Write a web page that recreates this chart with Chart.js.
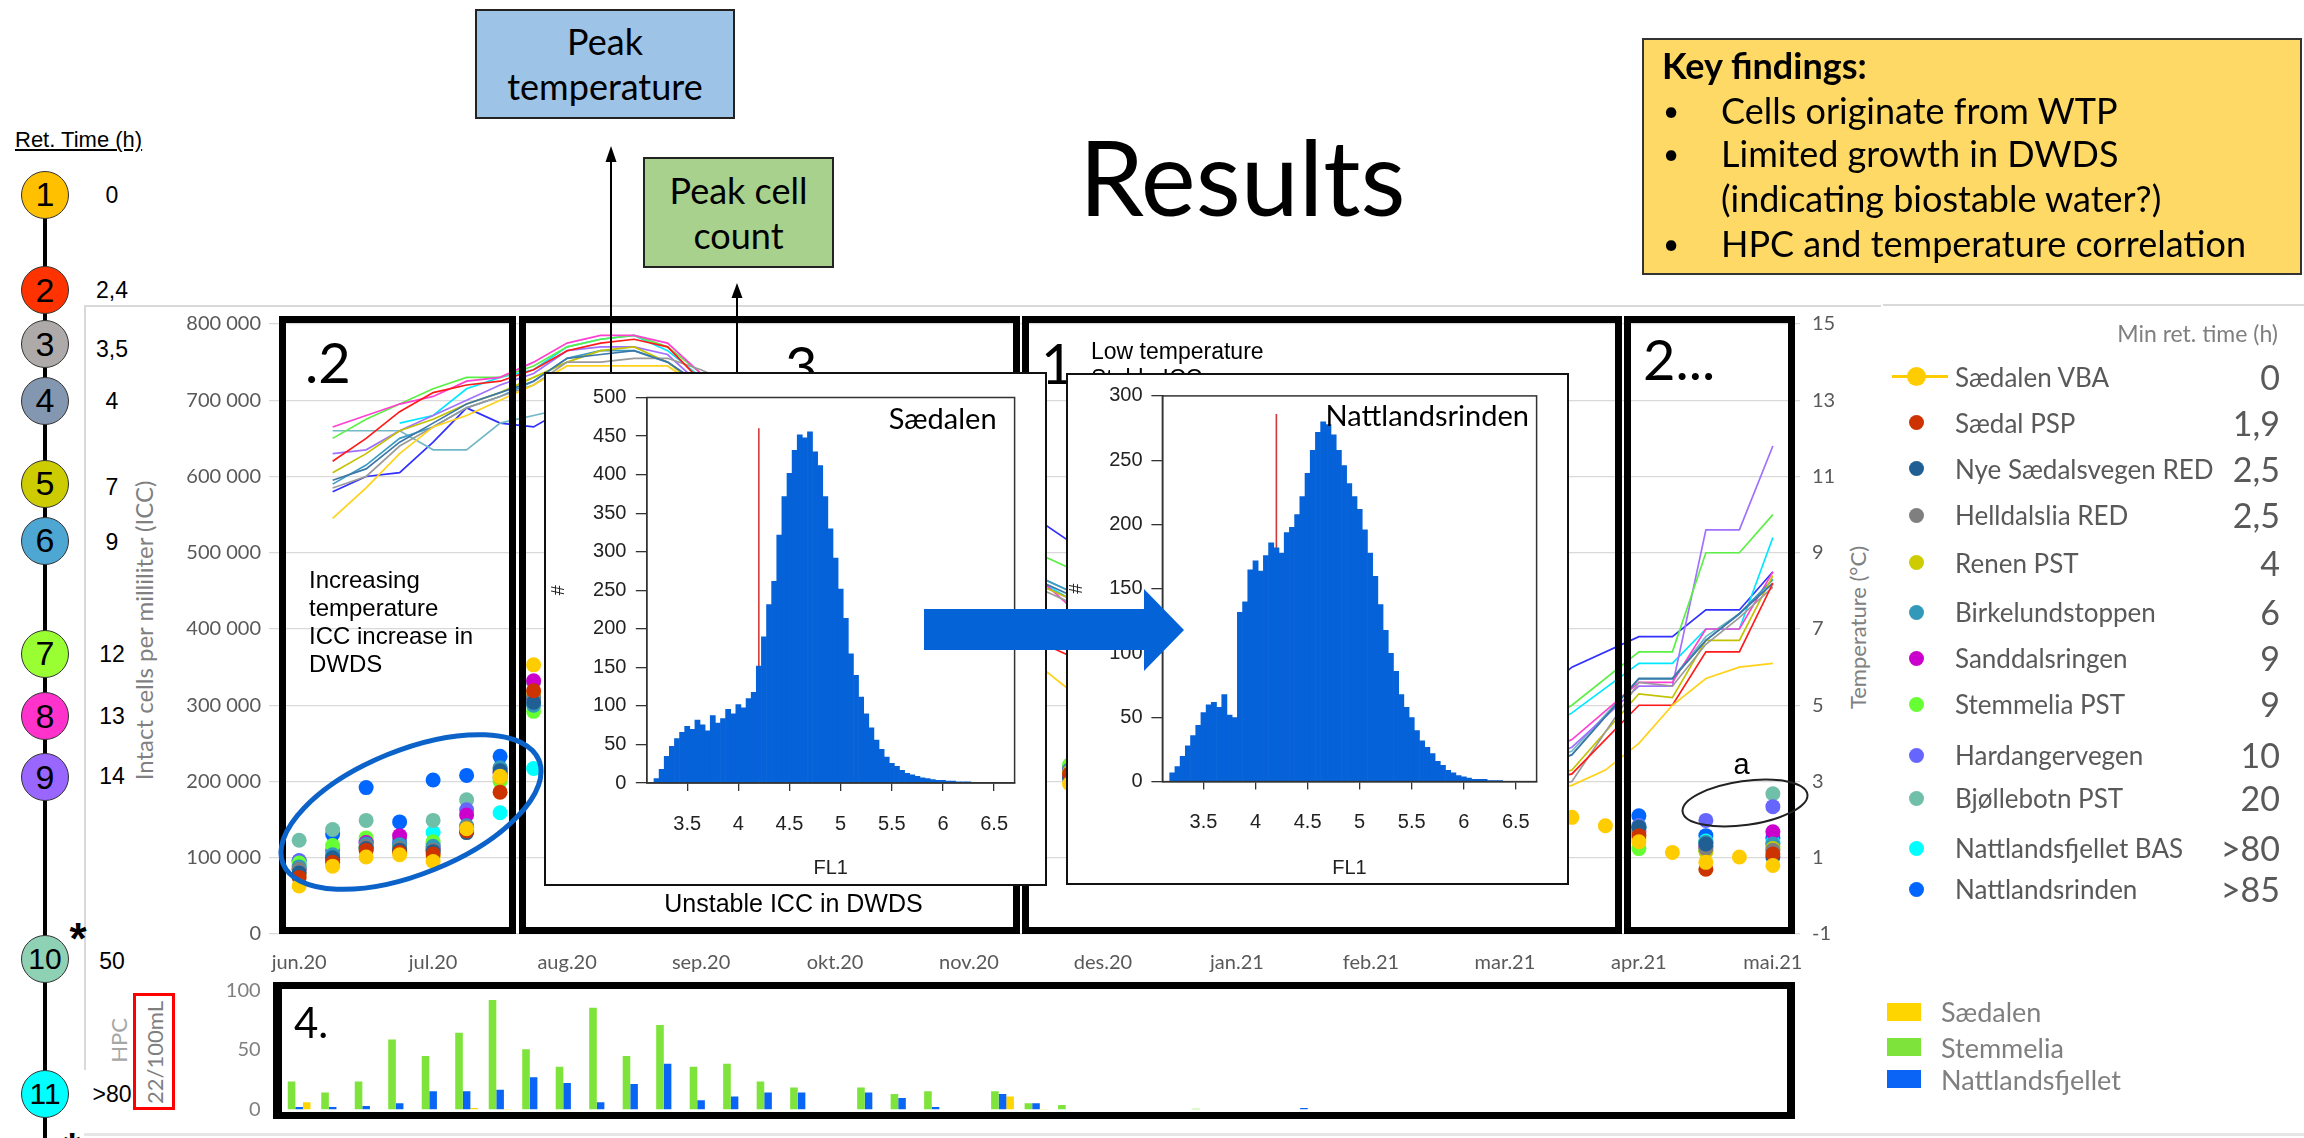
<!DOCTYPE html>
<html lang="no">
<head>
<meta charset="utf-8">
<title>Results</title>
<script src="https://cdn.jsdelivr.net/npm/chart.js"></script>
<style>
 html,body{margin:0;padding:0;background:#fff;}
 body{position:relative;width:2304px;height:1138px;overflow:hidden;font-family:Lato,"Liberation Sans",sans-serif;color:#000;}
 .a{position:absolute;white-space:nowrap;}
 .layer{position:absolute;left:0;top:0;width:2304px;height:1138px;}
 .panel{position:absolute;border:7px solid #000;box-sizing:border-box;}
 .tl{position:absolute;width:48px;height:48px;border-radius:50%;border:1.5px solid #333;box-sizing:border-box;display:flex;align-items:center;justify-content:center;font:34px "Liberation Sans",Arial,sans-serif;}
 .inset{position:absolute;border:2px solid #111;background:#fff;}
 .box{position:absolute;box-sizing:border-box;border:2px solid #222;display:flex;flex-direction:column;align-items:center;justify-content:center;font-size:36px;line-height:45px;}
 canvas{position:absolute;}
</style>
</head>
<body>
<div class="layer" id="base"></div>
<canvas id="mainChart" width="1800" height="680" style="left:84px;top:300px"></canvas>
<div class="layer" id="panels"></div>
<div class="inset" id="insetS" style="left:544px;top:372px;width:499px;height:510px">
  <canvas id="histS" width="499" height="510" style="left:0;top:0"></canvas>
</div>
<div class="inset" id="insetN" style="left:1066px;top:373px;width:499px;height:508px">
  <canvas id="histN" width="499" height="508" style="left:0;top:0"></canvas>
</div>
<canvas id="hpcChart" width="1800" height="160" style="left:84px;top:970px"></canvas>
<div class="layer" id="top"></div>
<div class="box" style="left:475px;top:9px;width:260px;height:110px;background:#9dc3e6"><div>Peak</div><div>temperature</div></div>
<div class="box" style="left:643px;top:157px;width:191px;height:111px;background:#a9d18e"><div>Peak cell</div><div>count</div></div>
<div class="a" style="left:1642px;top:38px;width:660px;height:237px;background:#ffd966;border:2px solid #333;box-sizing:border-box"></div>
<svg class="a" style="left:0;top:0" width="2304" height="1138">
  <ellipse cx="411" cy="812" rx="138" ry="62" transform="rotate(-22 411 812)" fill="none" stroke="#0b62c9" stroke-width="5"/>
  <ellipse cx="1745" cy="803" rx="63" ry="22" transform="rotate(-8 1745 803)" fill="none" stroke="#222" stroke-width="2"/>
  <line x1="611" y1="158" x2="611" y2="372" stroke="#000" stroke-width="2"/>
  <polygon points="611,146 605.5,162 616.5,162" fill="#000"/>
  <line x1="737" y1="294" x2="737" y2="372" stroke="#000" stroke-width="2"/>
  <polygon points="737,283 731.5,298 742.5,298" fill="#000"/>
  <polygon points="924,609 1144,609 1144,589 1184,630 1144,671 1144,650 924,650" fill="#0563d8"/>
</svg>
<div class="layer" id="texts"></div>
<script>
// ---------------- DATA ----------------
const monthLabels = ['jun.20','jul.20','aug.20','sep.20','okt.20','nov.20','des.20','jan.21','feb.21','mar.21','apr.21','mai.21'];
const monthTickWeeks = [0,4,8,12,16,20,24,28,32,36,40,44];

const stations = ['Sædalen VBA','Sædal PSP','Nye Sædalsvegen RED','Helldalslia RED','Renen PST','Birkelundstoppen','Sanddalsringen','Stemmelia PST','Hardangervegen','Bjøllebotn PST','Nattlandsfjellet BAS','Nattlandsrinden'];
const minRetTime = ['0','1,9','2,5','2,5','4','6','9','9','10','20','>80','>85'];
const dotColors = ['#ffcc00','#cc3300','#1f5f94','#7f7f7f','#cccc00','#3399bb','#cc00cc','#66ff33','#6666ff','#70bfa8','#00ffff','#0066ff'];
const lineColors = ['#ffd21a','#ff1a1a','#3d78a8','#9a9a9a','#c2c200','#3b9cc4','#ff40d0','#5cf046','#a070ff','#72b8c6','#00e8ff','#3030ff'];

// ICC (intact cells per mL), weekly sample index
const iccWeeks = [0,1,2,3,4,5,6,7,23,38,39,40,41,42,43,44];
const iccSaedalenVBA      = [63000,89000,101000,104000,95000,138000,207000,353000,197000,153000,142000,121000,107000,94000,101000,90000];
const iccSaedalPSP        = [74000,94000,110000,107000,105000,135000,186000,319000,210000,null,null,129000,null,85000,null,105000];
const iccNyeSaedalsvegen  = [80000,100000,112000,110000,108000,133000,214000,304000,205000,null,null,140000,null,118000,null,101000];
const iccHelldalslia      = [85000,98000,115000,112000,110000,140000,210000,310000,205000,null,null,138000,null,112000,null,110000];
const iccRenen            = [79000,96000,113000,109000,102000,136000,205000,315000,212000,null,null,125000,null,108000,null,112000];
const iccBirkelund        = [88000,104000,118000,117000,115000,142000,218000,300000,215000,null,null,140000,null,120000,null,118000];
const iccSanddalsringen   = [85000,98000,120000,129000,112000,156000,212000,332000,215000,null,null,134000,null,115000,null,134000];
const iccStemmelia        = [93000,116000,126000,115000,121000,140000,200000,292000,222000,null,null,112000,null,110000,null,115000];
const iccHardangervegen   = [96000,110000,122000,120000,118000,163000,205000,310000,218000,null,null,142000,null,149000,null,167000];
const iccBjollebotn       = [123000,137000,149000,125000,149000,176000,217000,330000,220000,null,null,142000,null,120000,null,184000];
const iccNattlandsfjellet = [90000,101000,112000,118000,133000,137000,159000,217000,215000,null,null,140000,null,122000,null,120000];
const iccNattlandsrinden  = [96000,131000,192000,147000,202000,208000,233000,310000,215000,null,null,155000,null,129000,null,126000];

// Temperature (°C), weekly index
const tempWeeks = [1,2,3,4,5,6,7,8,9,10,11,12,16,20,22,23,30,34,38,39,40,41,42,43,44];
const tempSaedalenVBA      = [9.9,10.7,11.6,12.3,12.6,13.0,13.4,13.9,13.9,13.9,13.9,13.3,11.8,8.0,6.1,5.4,2.4,2.2,2.9,3.3,4.0,5.0,5.7,6.0,6.1];
const tempSaedalPSP        = [11.4,12.0,12.7,13.2,13.4,13.5,13.8,14.3,14.5,14.6,14.4,13.5,12.2,8.6,6.7,6.3,2.5,2.3,3.2,null,5.0,5.0,6.4,6.4,8.2];
const tempNyeSaedalsvegen  = [10.9,11.2,11.9,12.4,12.9,13.2,13.5,14.1,14.2,14.3,14.0,13.4,12.0,9.4,8.3,7.9,2.6,2.4,3.7,null,5.7,5.7,6.7,7.4,8.2];
const tempHelldalslia      = [10.7,11.0,11.8,12.3,12.8,13.1,13.4,14.0,14.0,14.1,14.1,13.8,12.2,9.0,8.1,7.7,2.4,2.2,3.0,null,5.6,5.5,6.6,7.3,8.1];
const tempRenen            = [11.1,11.6,12.2,12.5,12.9,13.2,13.6,14.0,14.3,14.4,14.0,13.3,12.0,9.0,8.2,7.8,2.5,2.3,3.3,null,5.3,5.2,6.7,6.7,8.4];
const tempBirkelund        = [10.8,11.3,12.0,12.3,12.8,13.1,13.5,14.1,14.3,14.3,14.0,13.4,12.1,9.4,8.4,8.0,2.6,2.4,3.7,null,5.7,5.7,6.7,7.4,8.3];
const tempSanddalsringen   = [12.3,12.6,12.9,13.1,13.5,13.6,14.0,14.5,14.7,14.7,14.5,13.7,12.4,9.4,8.4,7.6,2.7,2.5,4.1,null,5.6,5.6,7.0,7.0,8.5];
const tempStemmelia        = [12.0,12.5,12.9,13.3,13.6,13.6,13.9,14.4,14.6,14.7,14.4,13.7,12.5,9.8,9.0,8.6,3.0,2.8,5.0,null,6.4,6.4,9.0,9.0,10.0];
const tempHardangervegen   = [11.6,11.7,12.2,12.6,13.0,13.4,13.7,14.3,14.4,14.4,14.2,13.4,12.2,9.2,8.2,7.8,2.6,2.4,3.9,null,5.5,5.5,9.6,9.6,11.8];
const tempBjollebotn       = [12.2,12.2,12.2,11.7,11.7,12.4,12.6,12.8,13.0,13.0,12.8,12.4,12.0,9.4,8.4,8.0,2.6,2.4,3.8,null,5.7,5.7,6.8,7.4,8.3];
const tempNattlandsfjellet = [null,null,12.4,12.6,13.3,13.6,13.8,14.4,14.6,14.7,14.3,13.6,12.3,9.4,8.3,7.8,2.8,2.6,4.8,null,6.1,6.1,7.0,7.0,9.4];
const tempNattlandsrinden  = [10.6,11.0,11.1,11.9,12.8,12.4,12.3,12.8,13.0,13.0,12.8,12.4,12.1,10.2,9.9,9.3,3.2,3.0,6.0,null,6.8,6.8,7.5,7.5,8.5];

// HPC 22 °C per 100 mL, weekly index
const hpcWeeks = [0,1,2,3,4,5,6,7,8,9,10,11,12,13,14,15,16,17,18,19,20,21,22,23,24,25,26,27,28,29,30];
const hpcStemmelia        = [23.5,14.3,23.5,58.8,45,64.4,92,50.6,36,85.4,45,71,36,38.5,23.5,18.6,null,18.6,13,15.4,null,15.4,5.4,3.8,null,null,null,0.8,null,null,null];
const hpcNattlandsfjellet = [2.2,2.2,3,5.4,15.4,15.4,16.7,27.2,22.4,6.2,21.5,38.5,7.8,11,14.3,14.3,null,14.3,9.7,2.2,null,13,5.4,null,null,null,null,null,null,null,1.4];
const hpcSaedalen         = [6.2,null,null,null,null,1.4,0.5,null,null,null,null,null,null,null,null,null,null,null,null,null,null,11,0.5,null,null,null,null,null,null,null,null];

// Flow cytometry histograms (FL1), bins of 0.05 starting at 3.20
const histBinStart = 3.2, histBinWidth = 0.05;
const histTicks = [3.5,4,4.5,5,5.5,6,6.5];
const histSaedalen = [6,18,35,48,58,66,74,70,82,76, 68,88,78,84,96,90,102,98,110,118,
  152,190,232,262,322,372,402,432,452,448, 456,430,412,372,330,292,252,214,168,140,
  112,90,72,56,44,34,26,22,17,13, 11,9,7,6,5,4,4,3,3,2, 2,2,1,1,1,1,0];
const histNattlandsrinden = [7,12,20,28,36,44,54,60,62,58, 68,52,50,132,140,165,172,164,176,186,
  182,178,194,198,208,222,240,258,272,280, 278,270,258,246,232,222,212,196,178,160,
  138,118,100,86,68,58,50,40,32,27, 22,16,13,9,7,5,4,3,2,2, 2,1,1,1,0,0,0];
const gateFL1 = 4.2, gateTopSaedalen = 460, gateTopNatt = 286;

const hpcLegend = ['Sædalen','Stemmelia','Nattlandsfjellet'];
const timelineRet = ['0','2,4','3,5','4','7','9','12','13','14','50','>80'];
const timelineColors = ['#ffc000','#ff3300','#aeaaaa','#8497b0','#cccc00','#4ea6d2','#99ff33','#ff33cc','#9966ff','#8fd1b5','#00ffff'];

// ---------------- LAYOUT (pixels) ----------------
const X_MIN = -0.9, X_MAX = 44.81;
const timelineY = [194.7,290,344,400.5,483.6,540.8,653.8,716,777,959,1094];
const retY = [194.7,290,348.6,400.5,487,542,653.8,716,776,961,1094];
const legendRowY = [376.5,422.7,468.8,515,562.6,612.4,658,704,755,798,848,889];
const LIB = '"Liberation Sans", Arial, sans-serif';
const LATO = 'Lato, "Liberation Sans", sans-serif';

function addText(t, o) {
  const d = document.createElement('div');
  d.className = 'a';
  d.textContent = t;
  const h = o.h || Math.round(o.size * 1.3);
  d.style.fontSize = o.size + 'px';
  d.style.lineHeight = h + 'px';
  d.style.height = h + 'px';
  d.style.fontFamily = o.family || LATO;
  if (o.color) d.style.color = o.color;
  if (o.weight) d.style.fontWeight = o.weight;
  if (o.underline) d.style.textDecoration = 'underline';
  d.style.top = (o.cy - h / 2) + 'px';
  if (o.left !== undefined) d.style.left = o.left + 'px';
  if (o.right !== undefined) { d.style.left = (o.right - 1000) + 'px'; d.style.width = '1000px'; d.style.textAlign = 'right'; }
  if (o.cx !== undefined) { d.style.left = (o.cx - 500) + 'px'; d.style.width = '1000px'; d.style.textAlign = 'center'; }
  if (o.rot) d.style.transform = 'rotate(' + o.rot + 'deg)';
  (o.parent || document.getElementById('texts')).appendChild(d);
  return d;
}
function addDiv(parent, css) {
  const d = document.createElement('div');
  d.style.position = 'absolute';
  Object.assign(d.style, css);
  parent.appendChild(d);
  return d;
}

// ---------------- BASE LAYER ----------------
const base = document.getElementById('base');
addDiv(base, {left:'84px', top:'305px', width:'1797px', height:'1.5px', background:'#d9d9d9'});
addDiv(base, {left:'1883px', top:'304px', width:'421px', height:'1.5px', background:'#d9d9d9'});
addDiv(base, {left:'84px', top:'305px', width:'1.5px', height:'765px', background:'#d9d9d9'});
addDiv(base, {left:'84px', top:'1133px', width:'2220px', height:'3px', background:'#e6e6e6'});
addDiv(base, {left:'43px', top:'194px', width:'4px', height:'944px', background:'#000'});
timelineY.forEach((y, i) => {
  const c = addDiv(base, {left:'21px', top:(y - 24) + 'px', background: timelineColors[i]});
  c.className = 'tl';
  if (i >= 9) c.style.fontSize = '30px';
  c.textContent = String(i + 1);
  addText(timelineRet[i], {cx:112, cy:retY[i], size:23, family:LIB, parent:base});
});
addText('Ret. Time (h)', {left:15, cy:139.5, size:22, family:LIB, underline:true, parent:base});
addText('*', {cx:78, cy:938, size:44, family:LIB, weight:'bold', parent:base});
addText('*', {cx:72, cy:1148, size:44, family:LIB, weight:'bold', parent:base});
addText('Intact cells per milliliter (ICC)', {cx:143, cy:630, size:24, color:'#808080', rot:-90, parent:base});
addText('HPC', {cx:118, cy:1040, size:22, color:'#a6a6a6', rot:-90, parent:base});
addDiv(base, {left:'133px', top:'993px', width:'42px', height:'117px', border:'3px solid #ff0000', boxSizing:'border-box'});
addText('22/100mL', {cx:154, cy:1052, size:22, color:'#7f7f7f', rot:-90, parent:base});
addText('Temperature (°C)', {cx:1856.7, cy:627, size:22, color:'#808080', rot:-90, parent:base});

// ---------------- MAIN CHART ----------------
Chart.defaults.font.family = LATO;
const tempSeries = [tempSaedalenVBA,tempSaedalPSP,tempNyeSaedalsvegen,tempHelldalslia,tempRenen,tempBirkelund,tempSanddalsringen,tempStemmelia,tempHardangervegen,tempBjollebotn,tempNattlandsfjellet,tempNattlandsrinden];
const iccSeries = [iccSaedalenVBA,iccSaedalPSP,iccNyeSaedalsvegen,iccHelldalslia,iccRenen,iccBirkelund,iccSanddalsringen,iccStemmelia,iccHardangervegen,iccBjollebotn,iccNattlandsfjellet,iccNattlandsrinden];
const mainDatasets = [];
stations.forEach((name, s) => {
  mainDatasets.push({
    type:'line', label: name + ' (°C)',
    data: tempWeeks.map((w, i) => ({x: w, y: tempSeries[s][i]})),
    yAxisID:'yTemp', borderColor: lineColors[s], backgroundColor: lineColors[s],
    borderWidth:1.7, pointRadius:0, pointHoverRadius:0, spanGaps:true, tension:0, fill:false, order: 30 + s
  });
});
stations.forEach((name, s) => {
  mainDatasets.push({
    type:'line', label: name, showLine:false,
    data: iccWeeks.map((w, i) => ({x: w, y: iccSeries[s][i]})),
    yAxisID:'yIcc', pointRadius:7.5, pointHoverRadius:7.5, pointBorderWidth:0,
    pointBackgroundColor: dotColors[s], borderColor: dotColors[s], backgroundColor: dotColors[s],
    order: s === 0 ? 0 : s + 1
  });
});
const fmtThousands = v => String(v).replace(/\B(?=(\d{3})+(?!\d))/g, ' ');
new Chart(document.getElementById('mainChart'), {
  type:'line',
  data:{datasets: mainDatasets},
  options:{
    responsive:false, animation:false, devicePixelRatio:1,
    layout:{padding:{top:19.5, left:0, right:0, bottom:0}},
    plugins:{legend:{display:false}, tooltip:{enabled:false}},
    scales:{
      x:{type:'linear', min:X_MIN, max:X_MAX, offset:false,
         afterBuildTicks: s => { s.ticks = monthTickWeeks.map(v => ({value: v})); },
         ticks:{callback: v => monthLabels[monthTickWeeks.indexOf(v)], color:'#595959', font:{size:20}, padding:17, maxRotation:0, autoSkip:false},
         grid:{display:false, drawTicks:false, offset:false}, border:{display:false},
         afterFit: s => { s.height = 46; }},
      yIcc:{position:'left', min:0, max:800000,
         ticks:{stepSize:100000, callback: fmtThousands, color:'#595959', font:{size:20}, padding:8},
         grid:{color:'#d9d9d9', lineWidth:1.3, drawTicks:false}, border:{display:false},
         afterFit: s => { s.width = 185; }},
      yTemp:{position:'right', min:-1, max:15,
         ticks:{stepSize:2, color:'#595959', font:{size:20}, padding:12},
         grid:{display:false, drawTicks:false}, border:{display:false},
         afterFit: s => { s.width = 84; }}
    }
  }
});

// ---------------- PANELS ----------------
const panels = document.getElementById('panels');
[[279,316,237,618],[519,316,501,618],[1022,316,600,618],[1624,316,171,618]].forEach(p => {
  const d = addDiv(panels, {left:p[0]+'px', top:p[1]+'px', width:p[2]+'px', height:p[3]+'px'});
  d.className = 'panel';
});
addText('.2', {left:305, cy:361, size:56, parent:panels});
addText('3', {left:785, cy:365, size:56, parent:panels});
addText('1', {left:1041, cy:362, size:56, parent:panels});
addText('2...', {left:1643, cy:358, size:56, parent:panels});
addText('Low temperature', {left:1091, cy:351, size:23, family:LIB, parent:panels});
addText('Stable ICC', {left:1091, cy:378, size:23, family:LIB, parent:panels});
['Increasing','temperature','ICC increase in','DWDS'].forEach((t, i) => addText(t, {left:309, cy:579 + i * 28.2, size:24, family:LIB, parent:panels}));
addText('Unstable ICC in DWDS', {cx:793.5, cy:903.5, size:25, family:LIB, parent:panels});
addText('a', {cx:1741.5, cy:764, size:29, family:LIB, parent:panels});

// ---------------- HISTOGRAMS ----------------
const framePlugin = {id:'frame', afterDraw(c) {
  const a = c.chartArea, ctx = c.ctx;
  ctx.save(); ctx.strokeStyle = '#333'; ctx.lineWidth = 1.5;
  ctx.strokeRect(a.left, a.top, a.right - a.left, a.bottom - a.top); ctx.restore();
}};
function gatePlugin(topCount) {
  return {id:'gate', beforeDatasetsDraw(c) {
    const x = c.scales.x.getPixelForValue(gateFL1);
    const y0 = c.scales.y.getPixelForValue(0), y1 = c.scales.y.getPixelForValue(topCount);
    const ctx = c.ctx; ctx.save(); ctx.strokeStyle = '#d03a3a'; ctx.lineWidth = 1.6;
    ctx.beginPath(); ctx.moveTo(x, y0); ctx.lineTo(x, y1); ctx.stroke(); ctx.restore();
  }};
}
function makeHist(id, counts, yMax, g, gateTop) {
  const data = counts.map((c, i) => ({x: +(histBinStart + i * histBinWidth).toFixed(3), y: c}));
  return new Chart(document.getElementById(id), {
    type:'bar',
    data:{datasets:[{data, backgroundColor:'#0562d8', borderWidth:0, barPercentage:1.12, categoryPercentage:1}]},
    options:{
      responsive:false, animation:false, devicePixelRatio:1,
      layout:{padding:{top:g.top, right:g.w - g.right, left:0, bottom:0}},
      plugins:{legend:{display:false}, tooltip:{enabled:false}},
      scales:{
        x:{type:'linear', min:3.105, max:6.7, offset:false,
           afterBuildTicks: s => { s.ticks = histTicks.map(v => ({value: v})); },
           ticks:{callback: v => String(v), color:'#222', font:{family:LIB, size:20}, padding:21, maxRotation:0, autoSkip:false},
           grid:{display:true, drawOnChartArea:false, drawTicks:true, tickLength:8, color:'#333', lineWidth:1.3, offset:false},
           border:{display:true, color:'#333', width:1.5},
           title:{display:true, text:'FL1', font:{family:LIB, size:20}, color:'#222', padding:{top:0, bottom:g.fl1Pad}},
           afterFit: s => { s.height = g.h - g.bottom; }},
        y:{min:0, max:yMax,
           ticks:{stepSize:50, color:'#222', font:{family:LIB, size:20}, padding:g.yTickPad},
           grid:{display:true, drawOnChartArea:false, drawTicks:true, tickLength:11, color:'#333', lineWidth:1.3},
           border:{display:true, color:'#333', width:1.5},
           title:{display:true, text:'#', font:{family:LIB, size:18, lineHeight:1}, color:'#222', padding:{top:g.hashPad, bottom:0}},
           afterFit: s => { s.width = g.left; }}
      }
    },
    plugins:[framePlugin, gatePlugin(gateTop)]
  });
}
makeHist('histS', histSaedalen, 500, {w:499, h:510, left:100.8, right:468.6, top:23.5, bottom:409, yTickPad:9.4, hashPad:4, fl1Pad:3.3}, gateTopSaedalen);
makeHist('histN', histNattlandsrinden, 300, {w:499, h:508, left:94.4, right:468.6, top:16, bottom:406.6, yTickPad:8.9, hashPad:0, fl1Pad:2.3}, gateTopNatt);
addText('Sædalen', {right:450.6, cy:44, size:29, parent:document.getElementById('insetS')});
addText('Nattlandsrinden', {right:461, cy:40, size:29, parent:document.getElementById('insetN')});

// ---------------- HPC BAR CHART ----------------
new Chart(document.getElementById('hpcChart'), {
  type:'bar',
  data:{datasets:[
    {label:'Stemmelia', data: hpcWeeks.map((w, i) => ({x:w, y:hpcStemmelia[i]})), backgroundColor:'#7ee33b'},
    {label:'Nattlandsfjellet', data: hpcWeeks.map((w, i) => ({x:w, y:hpcNattlandsfjellet[i]})), backgroundColor:'#0a64f5'},
    {label:'Sædalen', data: hpcWeeks.map((w, i) => ({x:w, y:hpcSaedalen[i]})), backgroundColor:'#ffd500'}
  ]},
  options:{
    responsive:false, animation:false, devicePixelRatio:1,
    layout:{padding:{top:18, right:84, bottom:18.3, left:0}},
    datasets:{bar:{barPercentage:1, categoryPercentage:0.68, borderWidth:0}},
    plugins:{legend:{display:false}, tooltip:{enabled:false}},
    scales:{
      x:{type:'linear', display:false, min:X_MIN, max:X_MAX, offset:false, grid:{offset:false}},
      y:{min:0, max:100, ticks:{stepSize:50, color:'#7f7f7f', font:{size:20}, padding:8.4},
         grid:{display:false, drawTicks:false}, border:{display:false},
         afterFit: s => { s.width = 185; }}
    }
  }
});

// ---------------- TOP LAYER (frames, legends, title) ----------------
const topL = document.getElementById('top');
const hp = addDiv(topL, {left:'273px', top:'982px', width:'1522px', height:'137px'});
hp.className = 'panel';
hp.style.borderWidth = '7px 8px 7px 9px';
addText('4.', {left:294, cy:1022, size:42, parent:topL});

addText('Min ret. time (h)', {right:2278, cy:333, size:23, color:'#7f7f7f', parent:topL});
stations.forEach((name, s) => {
  const y = legendRowY[s];
  if (s === 0) {
    addDiv(topL, {left:'1892px', top:(y - 1.5) + 'px', width:'56px', height:'3px', background:'#ffcc00'});
    addDiv(topL, {left:(1916.7 - 9.5) + 'px', top:(y - 9.5) + 'px', width:'19px', height:'19px', borderRadius:'50%', background:dotColors[s]});
  } else {
    addDiv(topL, {left:(1916.7 - 7.5) + 'px', top:(y - 7.5) + 'px', width:'15px', height:'15px', borderRadius:'50%', background:dotColors[s]});
  }
  addText(name, {left:1955, cy:y, size:26, color:'#595959', parent:topL});
  addText(minRetTime[s], {right:2280, cy:y, size:34, color:'#595959', parent:topL});
});
const hpcLegendColors = ['#ffd500','#7ee33b','#0a64f5'];
[1011.7,1047,1079].forEach((y, i) => {
  addDiv(topL, {left:'1887px', top:(y - 9) + 'px', width:'34px', height:'18px', background:hpcLegendColors[i]});
  addText(hpcLegend[i], {left:1941, cy:y, size:27, color:'#7f7f7f', parent:topL});
});

addText('Results', {left:1079, cy:176, size:104, h:120, parent:topL});

// key findings (drawn into the texts layer, above the box)
addText('Key findings:', {left:1662, cy:65, size:36, weight:'bold'});
[['•','Cells originate from WTP',110],['•','Limited growth in DWDS',153],['','(indicating biostable water?)',198],['•','HPC and temperature correlation',243]].forEach(r => {
  if (r[0]) addText(r[0], {left:1663, cy:r[2], size:28});
  addText(r[1], {left:1721, cy:r[2], size:36});
});
</script>
</body>
</html>
